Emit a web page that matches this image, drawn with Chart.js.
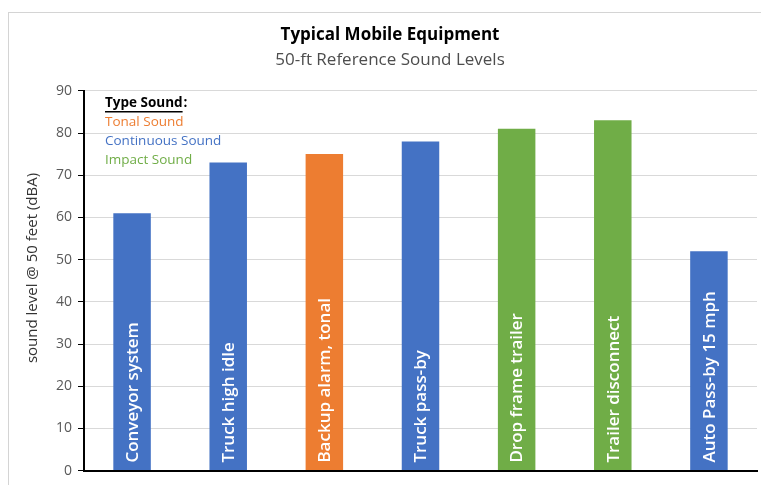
<!DOCTYPE html>
<html>
<head>
<meta charset="utf-8">
<script src="https://cdn.jsdelivr.net/npm/chart.js@4/dist/chart.umd.min.js"></script>
<style>
  html, body { margin: 0; padding: 0; background: #fff; }
  #wrap { width: 761px; height: 485px; }
</style>
</head>
<body>
<div id="wrap"><canvas id="soundChart"></canvas></div>
<script>
const categories = [
  "Conveyor system",
  "Truck high idle",
  "Backup alarm, tonal",
  "Truck pass-by",
  "Drop frame trailer",
  "Trailer disconnect",
  "Auto Pass-by 15 mph"
];
const soundLevels = [61, 73, 75, 78, 81, 83, 52];
const soundTypes = ["continuous", "continuous", "tonal", "continuous", "impact", "impact", "continuous"];
const yTicks = [0, 10, 20, 30, 40, 50, 60, 70, 80, 90];

const typeColors = {
  tonal: "#ED7D31",
  continuous: "#4472C4",
  impact: "#70AD47"
};
const FONT = "'Open Sans', sans-serif";

// border, y title, type legend, labels inside the bars
const extras = {
  id: "extras",
  beforeDraw(chart) {
    const c = chart.ctx;
    c.save();
    c.strokeStyle = "#d4d4d4";
    c.lineWidth = 1;
    c.strokeRect(8.5, 12.5, 800, 500);
    c.restore();
  },
  afterDatasetsDraw(chart) {
    const c = chart.ctx;
    const area = chart.chartArea;
    const bars = chart.getDatasetMeta(0).data;

    c.save();
    c.font = "600 17px " + FONT;
    c.fillStyle = "#fff";
    c.textAlign = "left";
    c.textBaseline = "middle";
    bars.forEach((bar, i) => {
      c.save();
      c.translate(bar.x + 1, area.bottom - 8);
      c.rotate(-Math.PI / 2);
      c.fillText(categories[i], 0, 0);
      c.restore();
    });
    c.restore();

    // y axis title
    c.save();
    c.font = "15px " + FONT;
    c.fillStyle = "#333";
    c.textAlign = "center";
    c.textBaseline = "middle";
    c.translate(33, 268);
    c.rotate(-Math.PI / 2);
    c.fillText("sound level @ 50 feet (dBA)", 0, 0);
    c.restore();

    // type sound legend
    const lx = area.left + 21;
    c.save();
    c.textAlign = "left";
    c.textBaseline = "middle";
    c.font = "bold 13.5px " + FONT;
    c.fillStyle = "#000";
    c.fillText("Type Sound", lx, 103);
    const w = c.measureText("Type Sound").width;
    c.fillText(":", lx + w + 1, 103);
    c.fillRect(lx, 111, w, 1.5);
    c.font = "13.5px " + FONT;
    c.fillStyle = typeColors.tonal;
    c.fillText("Tonal Sound", lx, 122);
    c.fillStyle = typeColors.continuous;
    c.fillText("Continuous Sound", lx, 141);
    c.fillStyle = typeColors.impact;
    c.fillText("Impact Sound", lx, 160);
    c.restore();
  }
};

new Chart(document.getElementById("soundChart"), {
  type: "bar",
  data: {
    labels: categories,
    datasets: [{
      data: soundLevels,
      backgroundColor: soundTypes.map(t => typeColors[t]),
      barPercentage: 0.39,
      categoryPercentage: 1
    }]
  },
  options: {
    responsive: true,
    maintainAspectRatio: false,
    animation: false,
    layout: { padding: { left: 23, right: 4, top: 0, bottom: 12 } },
    plugins: {
      legend: { display: false },
      tooltip: { enabled: false },
      title: {
        display: true,
        text: "Typical Mobile Equipment",
        color: "#000",
        font: { family: FONT, size: 17, weight: "bold" },
        padding: { top: 25, bottom: 5 }
      },
      subtitle: {
        display: true,
        text: "50-ft Reference Sound Levels",
        color: "#4d4d4d",
        font: { family: FONT, size: 17 },
        padding: { top: 0, bottom: 20 }
      }
    },
    scales: {
      x: {
        ticks: { display: false },
        grid: { display: false },
        border: { color: "#000", width: 2 },
        afterFit(scale) { scale.height = 0; }
      },
      y: {
        min: 0,
        max: 90,
        afterBuildTicks(scale) { scale.ticks = yTicks.map(v => ({ value: v })); },
        ticks: {
          color: "#595959",
          font: { family: FONT, size: 14 },
          padding: 6
        },
        grid: { color: "#d9d9d9", tickColor: "#000", tickLength: 6 },
        border: { color: "#000", width: 2 },
        afterFit(scale) { scale.width = 61; }
      }
    }
  },
  plugins: [extras]
});
</script>
</body>
</html>
